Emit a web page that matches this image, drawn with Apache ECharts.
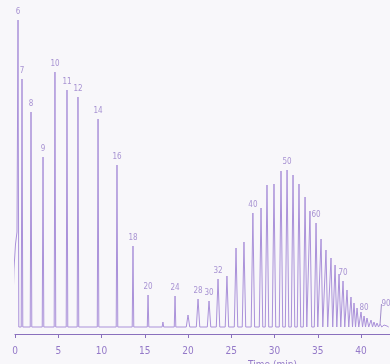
<!DOCTYPE html>
<html>
<head>
<meta charset="utf-8">
<script src="https://cdn.jsdelivr.net/npm/echarts@6/dist/echarts.min.js"></script>
<style>
  html, body { margin: 0; padding: 0; background: #f8f7fa; }
  #chart { width: 390px; height: 364px; }
</style>
</head>
<body>
<div id="chart"></div>
<script>
// retention time (min) and height of each peak
const peakTimes = [
  0.35, 0.81, 1.85, 3.24, 4.62, 6.01, 7.28, 9.60, 11.79, 13.64,
  15.38, 17.1, 18.5, 20.0, 21.16, 22.43, 23.47, 24.5, 25.55, 26.47,
  27.5, 28.44, 29.13, 29.94, 30.75, 31.45, 32.14, 32.83, 33.53, 34.1,
  34.8, 35.38, 35.95, 36.53, 37.0, 37.46, 37.92, 38.38, 38.84, 39.19,
  39.54, 40.0, 40.35, 40.69, 41.16, 41.5, 41.85, 42.2, 42.66, 43.0
];
const peakHeights = [
  307, 248, 215, 170, 255, 237, 230, 208, 162, 81,
  32, 5, 31, 12, 28, 26, 48, 51, 79, 85,
  114, 119, 142, 143, 156, 157, 152, 143, 130, 116,
  104, 88, 77, 69, 62, 53, 46, 37, 30, 24,
  19, 15, 11, 9, 7, 5, 4, 3, 2, 1
];
const peakLabels = [
  '6', '7', '8', '9', '10', '11', '12', '14', '16', '18',
  '20', '', '24', '', '28', '30', '32', '', '', '',
  '40', '', '', '', '', '50', '', '', '', '',
  '60', '', '', '', '', '', '70', '', '', '',
  '', '', '80', '', '', '', '', '90', '', ''
];
// solvent front rising in front of the first peak
const solventTimes = [-0.29, -0.23, -0.12, 0.06, 0.23];
const solventHeights = [0, 23, 58, 83, 95];
const tickValues = [0, 5, 10, 15, 20, 25, 30, 35, 40];

const lineColor = '#ab92da';
const axisColor = '#8a70bd';
const textColor = '#9479c8';

// build the trace: each peak rises from the baseline and falls back
const trace = solventTimes.map((t, i) => [t, solventHeights[i]]);
peakTimes.forEach((t, i) => {
  const w = t < 20 ? 0.09 : 0.2;
  const prevMid = i > 0 ? (peakTimes[i - 1] + t) / 2 : -Infinity;
  const nextMid = i < peakTimes.length - 1 ? (peakTimes[i + 1] + t) / 2 : Infinity;
  if (i > 0) trace.push([Math.max(t - w, prevMid), 0]);
  trace.push([t, peakHeights[i]]);
  trace.push([Math.min(t + w, nextMid), 0]);
});

const labelPoints = [];
peakTimes.forEach((t, i) => {
  if (!peakLabels[i]) return;
  const item = { value: [t, peakHeights[i]], name: peakLabels[i] };
  // the last label sits off to the side with a short leader
  if (peakLabels[i] === '90') item.labelLine = { show: true };
  labelPoints.push(item);
});

const chart = echarts.init(document.getElementById('chart'), null, { renderer: 'canvas' });
chart.setOption({
  animation: false,
  backgroundColor: '#f8f7fa',
  textStyle: { fontFamily: 'Liberation Sans Narrow, DejaVu Sans Condensed, sans-serif' },
  grid: { left: 15, right: 0, top: 8, bottom: 30, outerBoundsMode: 'none' },
  xAxis: {
    type: 'value',
    min: 0,
    max: 43.35,
    interval: 5,
    name: 'Time (min)',
    nameLocation: 'middle',
    nameGap: 20,
    nameTextStyle: { color: textColor, fontSize: 10, padding: [0, 0, 0, 140] },
    axisLine: { onZero: false, lineStyle: { color: axisColor, width: 1.2 } },
    axisTick: { length: 4, inside: false, customValues: tickValues, lineStyle: { color: axisColor } },
    axisLabel: { color: textColor, fontSize: 10, margin: 12, customValues: tickValues },
    splitLine: { show: false }
  },
  yAxis: {
    type: 'value',
    min: -7,
    max: 319,
    show: false
  },
  series: [
    {
      type: 'line',
      data: trace,
      showSymbol: false,
      clip: false,
      lineStyle: { color: lineColor, width: 1 },
      emphasis: { disabled: true }
    },
    {
      type: 'scatter',
      data: labelPoints,
      symbolSize: 0,
      clip: false,
      label: {
        show: true,
        position: 'top',
        distance: 4,
        formatter: p => p.name,
        color: textColor,
        fontSize: 8
      },
      labelLine: { show: false, lineStyle: { color: axisColor, width: 0.8 } },
      labelLayout: p => (p.text === '90' ? { dx: 6, dy: -12 } : {}),
      emphasis: { disabled: true }
    }
  ]
});
</script>
</body>
</html>
